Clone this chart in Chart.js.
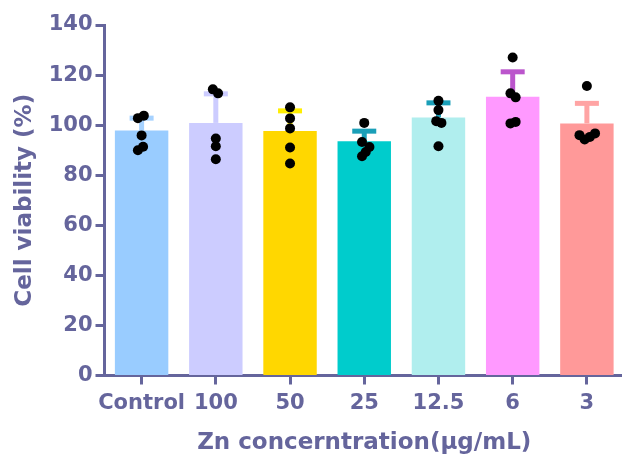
<!DOCTYPE html>
<html>
<head>
<meta charset="utf-8">
<script src="https://cdn.jsdelivr.net/npm/chart.js@4.4.1/dist/chart.umd.min.js"></script>
<style>
  html, body { margin: 0; padding: 0; background: #fff; overflow: hidden; }
  #wrap { width: 629px; height: 457px; }
</style>
</head>
<body>
<div id="wrap"><canvas id="viability" width="629" height="457"></canvas></div>
<script>
// Groups and summary values (mean and SD, %)
var categories = ["Control", "100", "50", "25", "12.5", "6", "3"];
var means = [97.9, 100.9, 97.7, 93.6, 103.1, 111.3, 100.7];
var sds = [4.9, 11.6, 8.0, 4.0, 5.8, 10.0, 8.0];

// Individual replicates for each group, with a small horizontal spread
var replicates = [
  [102.8, 103.8, 95.9, 91.4, 90.0],
  [114.3, 112.7, 94.7, 91.6, 86.4],
  [107.1, 102.7, 98.7, 91.1, 84.7],
  [100.9, 93.3, 91.3, 89.3, 87.6],
  [109.7, 106.0, 101.6, 100.9, 91.6],
  [127.0, 112.7, 111.1, 100.7, 101.3],
  [115.6, 96.0, 94.3, 95.3, 96.7]
];
var jitter = [
  [-0.05, 0.03, 0, 0.02, -0.05],
  [-0.04, 0.03, 0, 0, 0],
  [0, 0, 0, 0, 0],
  [0, -0.03, 0.07, 0.02, -0.03],
  [0, 0, -0.03, 0.04, 0],
  [0, -0.03, 0.04, -0.03, 0.04],
  [0, -0.1, -0.03, 0.04, 0.11]
];

var yTicks = { min: 0, max: 140, step: 20 };

var barColors = ["#99ccff", "#ccccff", "#ffd700", "#00cccc", "#b0eeee", "#ff99ff", "#ff9999"];
var capColors = ["#a6d2ff", "#ccccff", "#ffee00", "#1a9fb8", "#1a9fb8", "#bb55cc", "#ffa4a4"];
var axisColor = "#65659c";

// Flatten replicates into scatter points on the hidden linear axis
var points = [];
replicates.forEach(function (group, i) {
  group.forEach(function (v, j) {
    points.push({ x: i + jitter[i][j], y: v });
  });
});

// Upward SD bars drawn right after the bars, before the dots
var errorBars = {
  id: "errorBars",
  afterDatasetDraw: function (chart, args) {
    if (args.index !== 0) return;
    var ctx = chart.ctx;
    var y = chart.scales.y;
    args.meta.data.forEach(function (bar, i) {
      var yTop = y.getPixelForValue(means[i] + sds[i]);
      var yBase = y.getPixelForValue(means[i]);
      ctx.save();
      ctx.fillStyle = capColors[i];
      ctx.fillRect(bar.x - 2.5, yTop, 5, yBase - yTop);
      ctx.fillRect(bar.x - 12, yTop - 2.5, 24, 5);
      ctx.restore();
    });
  }
};

var tickFont = { family: "DejaVu Sans", size: 21, weight: "bold" };

new Chart(document.getElementById("viability"), {
  data: {
    labels: categories,
    datasets: [
      {
        type: "bar",
        data: means,
        backgroundColor: barColors,
        barPercentage: 0.72,
        categoryPercentage: 1,
        grouped: false,
        order: 1
      },
      {
        type: "scatter",
        data: points,
        xAxisID: "xj",
        backgroundColor: "#000",
        borderColor: "#000",
        pointRadius: 5,
        borderWidth: 0,
        showLine: false,
        order: 0
      }
    ]
  },
  options: {
    responsive: false,
    animation: false,
    devicePixelRatio: 1,
    layout: { padding: { top: 25, left: 0, right: 0, bottom: 0 } },
    plugins: {
      legend: { display: false },
      tooltip: { enabled: false }
    },
    scales: {
      x: {
        type: "category",
        offset: true,
        border: { display: true, color: axisColor, width: 3 },
        grid: {
          offset: false,
          drawOnChartArea: false,
          drawTicks: true,
          tickLength: 9,
          tickWidth: 3,
          tickColor: axisColor
        },
        ticks: { color: axisColor, font: tickFont, padding: 6, maxRotation: 0, autoSkip: false },
        title: {
          display: true,
          text: "Zn concerntration(\u03bcg/mL)",
          color: axisColor,
          font: { family: "DejaVu Sans", size: 23, weight: "bold" },
          padding: { top: 3, bottom: 0 }
        },
        afterFit: function (scale) { scale.height = 81.5; }
      },
      xj: {
        type: "linear",
        display: false,
        min: -0.5,
        max: 6.5
      },
      y: {
        min: yTicks.min,
        max: yTicks.max,
        border: { display: true, color: axisColor, width: 3 },
        grid: {
          drawOnChartArea: false,
          drawTicks: true,
          tickLength: 9,
          tickWidth: 3,
          tickColor: axisColor
        },
        ticks: { stepSize: yTicks.step, color: axisColor, font: tickFont, padding: 3 },
        title: {
          display: true,
          text: "Cell viability (%)",
          color: axisColor,
          font: { family: "DejaVu Sans", size: 23, weight: "bold" },
          padding: { top: 11, bottom: 0 }
        },
        afterFit: function (scale) { scale.width = 104.5; }
      }
    }
  },
  plugins: [errorBars]
});
</script>
</body>
</html>
